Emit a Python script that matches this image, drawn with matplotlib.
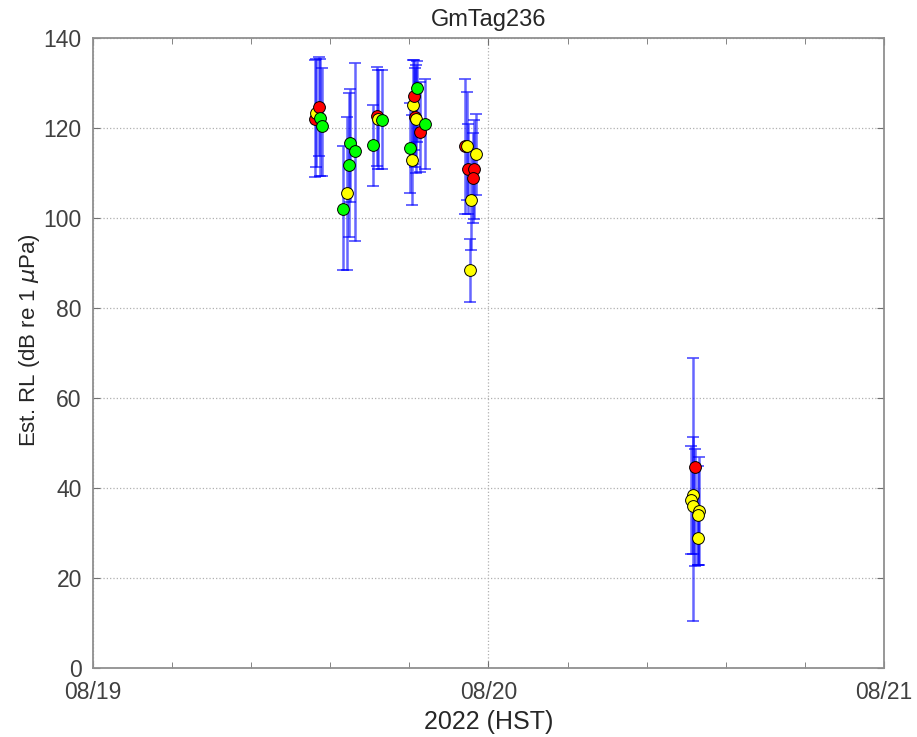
import datetime as dt

import matplotlib
matplotlib.use("Agg")
import matplotlib.dates as mdates
import matplotlib.pyplot as plt
from matplotlib.ticker import MultipleLocator

plt.rcParams["font.family"] = ["Liberation Sans", "DejaVu Sans"]

# detection times, in days after 08/19 00:00 HST
t_days = [0.561, 0.565, 0.572, 0.575, 0.578,
          0.633, 0.641, 0.648, 0.651, 0.662,
          0.707, 0.719, 0.721, 0.732,
          0.802, 0.806, 0.808, 0.812, 0.818, 0.815, 0.817, 0.827, 0.839,
          0.941, 0.946, 0.968, 0.947, 0.963, 0.960, 0.956, 0.952,
          1.522, 1.516, 1.512, 1.518, 1.533, 1.529, 1.529]
rl = [122.1, 123.4, 124.7, 122.3, 120.4,
      101.9, 105.5, 111.8, 116.6, 114.9,
      116.2, 122.6, 121.9, 121.8,
      115.5, 112.9, 125.1, 127.1, 128.8, 122.4, 122.0, 119.2, 120.8,
      116.0, 116.0, 114.2, 111.0, 110.8, 108.8, 104.0, 88.4,
      44.7, 38.4, 37.3, 36.0, 34.9, 34.0, 29.0]
err_lo = [13, 12, 11, 13, 11,
          13.5, 17, 16, 13, 20,
          9, 11, 11, 11,
          10, 10, 13, 12, 12, 11, 12, 9, 10,
          15, 12, 9, 10, 11, 10, 11, 7,
          22, 13, 12, 25.5, 12, 11, 6]
err_hi = [13, 12, 11, 13, 13,
          14, 17, 16, 12, 19.6,
          9, 11, 11, 11,
          10, 10, 10, 8, 6, 11, 12, 11, 10,
          15, 12, 9, 10, 11, 10, 11, 7,
          4, 13, 12, 33, 12, 11, 6]
colors = ["red", "yellow", "red", "lime", "lime",
          "lime", "yellow", "lime", "lime", "lime",
          "lime", "red", "yellow", "lime",
          "lime", "yellow", "yellow", "red", "lime", "red", "yellow", "red", "lime",
          "red", "yellow", "yellow", "red", "red", "red", "yellow", "yellow",
          "red", "yellow", "yellow", "yellow", "yellow", "yellow", "yellow"]

start = dt.datetime(2022, 8, 19)
times = [start + dt.timedelta(days=d) for d in t_days]

fig = plt.figure(figsize=(9.17, 7.37), dpi=100)
ax = fig.add_axes([0.1014, 0.0936, 0.8626, 0.8548])

ax.errorbar(times, rl, yerr=[err_lo, err_hi], fmt="none", ecolor="blue",
            elinewidth=1.8, capsize=4, capthick=1.4, alpha=0.6, zorder=2)
for t, v, c in zip(times, rl, colors):
    ax.plot(t, v, "o", ms=8.5, mfc=c, mec="black", mew=0.7, zorder=3)

ax.set_xlim(start, start + dt.timedelta(days=2))
ax.set_ylim(0, 140)
ax.xaxis.set_major_locator(mdates.DayLocator())
ax.xaxis.set_major_formatter(mdates.DateFormatter("%m/%d"))
ax.xaxis.set_minor_locator(MultipleLocator(0.2))
ax.yaxis.set_major_locator(MultipleLocator(20))

ax.grid(True, which="major", color="#b0b0b0", linestyle=":", linewidth=0.9)
ax.tick_params(which="both", direction="in", top=True, right=True,
               colors="#707070", labelcolor="#404040", labelsize=16.5)
ax.tick_params(which="major", length=5)
ax.tick_params(which="minor", length=4)
ax.tick_params(axis="x", pad=9)
ax.tick_params(axis="y", pad=8)
for s in ax.spines.values():
    s.set_color("#909090")
    s.set_linewidth(1.3)

ax.set_title("GmTag236", fontsize=17, color="#262626", pad=9)
ax.set_xlabel("2022 (HST)", fontsize=18, color="#262626", labelpad=5)
ax.set_ylabel(r"Est. RL (dB re 1 $\mu$Pa)", fontsize=16, color="#262626", labelpad=4)
ax.yaxis.set_label_coords(-0.065, 0.52)

fig.savefig("out.png", dpi=100)
